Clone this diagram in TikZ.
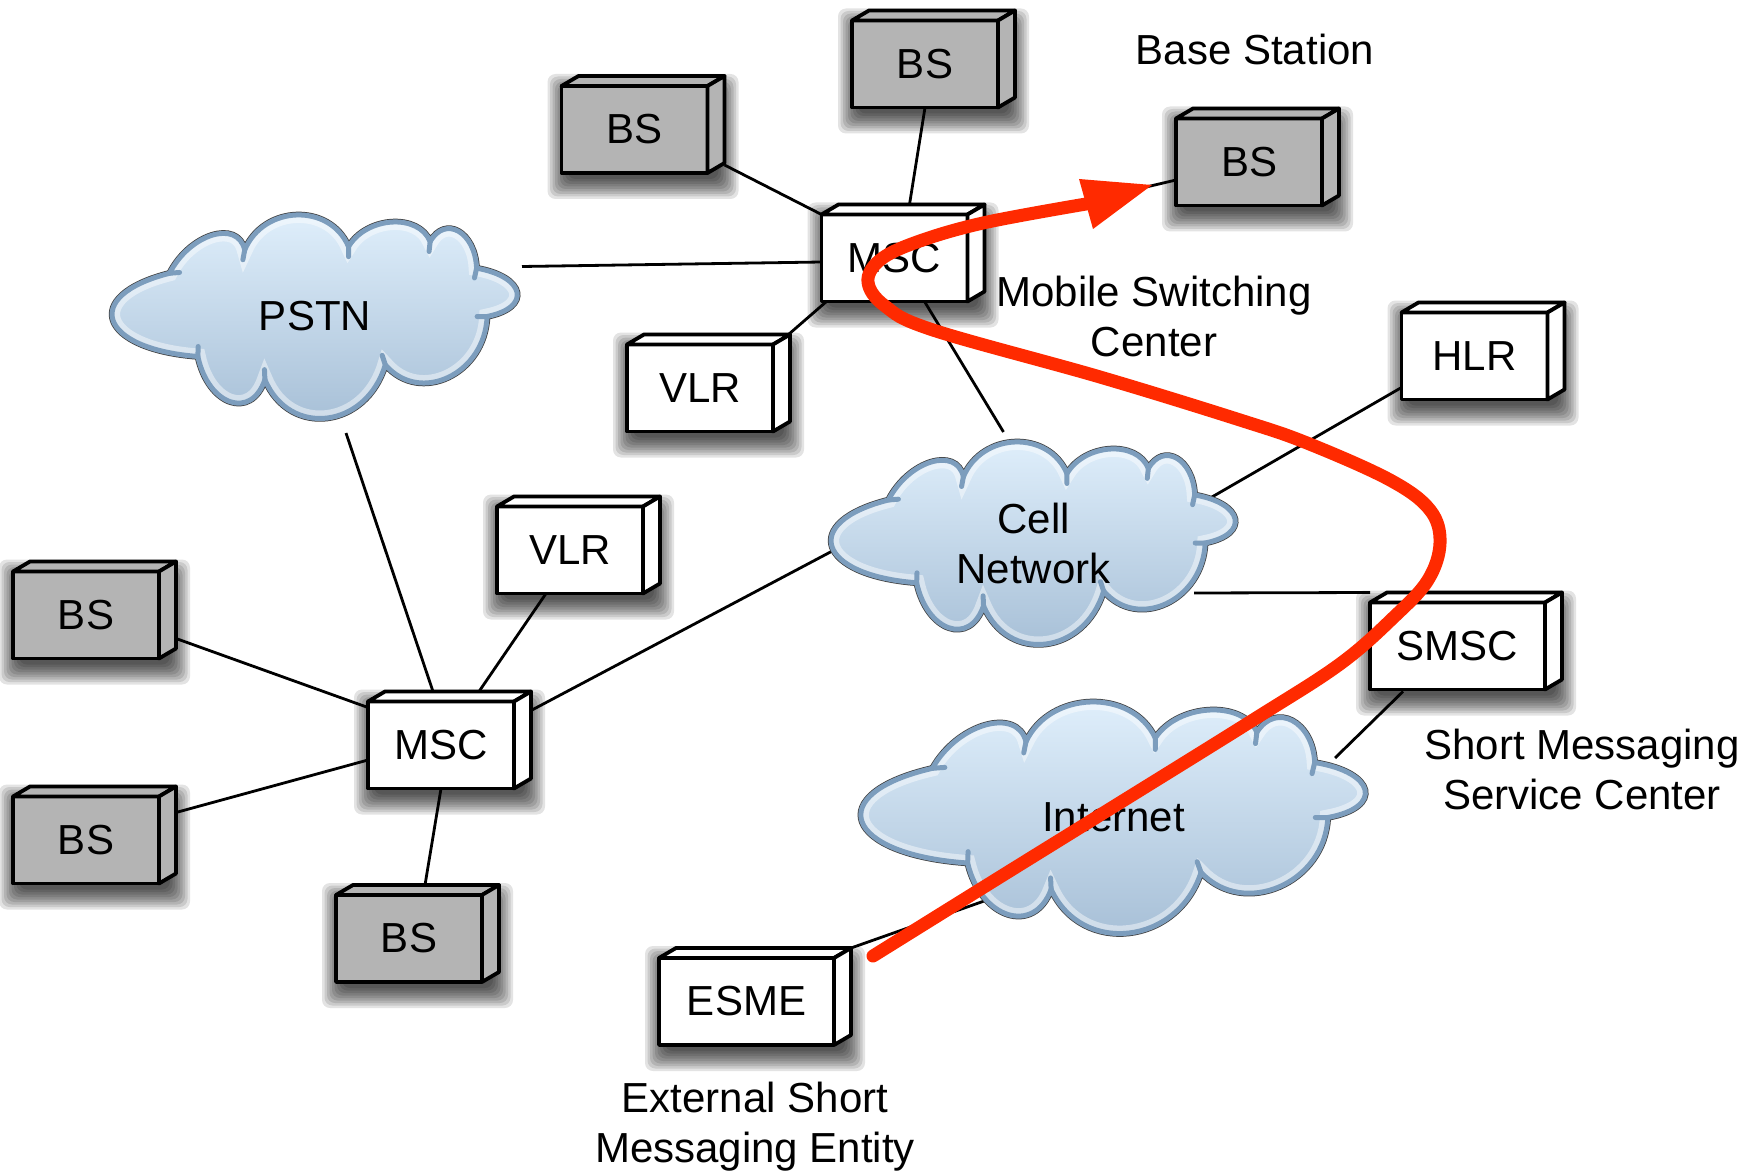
\documentclass[tikz,border=0pt]{standalone}
\usepackage{fontspec}
\setmainfont{Liberation Sans}
\usetikzlibrary{calc}
\pgfdeclarelayer{bg}\pgfdeclarelayer{shadow}\pgfdeclarelayer{lines}\pgfdeclarelayer{top}
\pgfsetlayers{bg,shadow,lines,main,top}
\definecolor{bsgray}{HTML}{B4B4B4}
\definecolor{cloudtop}{HTML}{E2F1FD}
\definecolor{cloudbot}{HTML}{A3BCD4}
\definecolor{cloudblue}{HTML}{7C9DBD}
\definecolor{arrowred}{HTML}{FF2A00}
\newcommand\bigfont{\fontsize{42}{50}\selectfont}
\def\cloudpath{(0.14,0.287) .. controls (0.1895,0.0933) and (0.3085,0.0197) .. (0.326,0.172) .. controls (0.373,-0.0499) and (0.5374,-0.0601) .. (0.583,0.156) .. controls (0.6274,0.0065) and (0.7566,-0.0095) .. (0.785,0.131) .. controls (0.8227,-0.0004) and (0.8963,0.0834) .. (0.90,0.262) .. controls (1.0207,0.3038) and (1.0373,0.4562) .. (0.926,0.50) .. controls (0.9206,0.7838) and (0.7594,0.9362) .. (0.674,0.738) .. controls (0.6274,1.0521) and (0.4366,1.0989) .. (0.376,0.811) .. controls (0.3421,1.0115) and (0.2359,0.9385) .. (0.21,0.697) .. controls (-0.0356,0.6602) and (-0.0804,0.3978) .. (0.14,0.287) -- cycle}
\newcommand\drawcloud[4]{%
  \begin{scope}[shift={(#1,#2)},xscale=#3,yscale=#4]
    \draw[draw=black!75,line width=6.5pt] \cloudpath;
    \shade[top color=cloudtop,bottom color=cloudbot] \cloudpath;
    \begin{scope}
      \clip \cloudpath;
      \draw[draw=white,opacity=0.45,line width=16pt] \cloudpath;
    \end{scope}
    \draw[cloudline] \cloudpath;
    \draw[cloudline,line cap=round] (0.14,0.287)--(0.1647,0.2831) (0.326,0.172)--(0.3215,0.2204)
      (0.583,0.156)--(0.583,0.2053) (0.785,0.131)--(0.7823,0.1799) (0.90,0.262)--(0.8947,0.3101)
      (0.926,0.50)--(0.9012,0.50) (0.674,0.738)--(0.6662,0.6912) (0.376,0.811)--(0.3749,0.7617)
      (0.21,0.697)--(0.2109,0.6477);
  \end{scope}}
\newcommand\mkbox[6]{% name, fill, x, y, width, text
  \node[devbox, fill=#2, minimum width=#5] (#1) at (#3,#4) {#6};
  \filldraw[faceline, fill=#2] (#1.north west) -- ++(17,-10) -- ($(#1.north east)+(17,-10)$) -- (#1.north east) -- cycle;
  \filldraw[faceline, fill=#2] (#1.north east) -- ++(17,-10) -- ($(#1.south east)+(17,-10)$) -- (#1.south east) -- cycle;
  \begin{pgfonlayer}{shadow}
    \foreach \e in {14,11.5,...,-8} {
      \fill[black,opacity=0.11,rounded corners=8pt] ($(#1.north west)+({-(\e)},{2-(\e)})$) rectangle ($(#1.south east)+({17+(\e)},{12+(\e)})$);
    }
  \end{pgfonlayer}}
\begin{document}
\begin{tikzpicture}[x=1pt,y=-1pt,
  devbox/.style={draw, line width=3.8pt, inner sep=0pt, outer sep=0pt, minimum height=87pt, font=\bigfont, line join=round},
  faceline/.style={draw, line width=3.8pt, line join=round},
  conn/.style={draw=black, line width=2.8pt},
  cloudline/.style={draw=cloudblue, line width=5pt},
  cloudtext/.style={font=\bigfont, inner sep=0pt, outer sep=0pt},
  lbl/.style={font=\bigfont, inner sep=0pt},
  redline/.style={draw=arrowred, line width=13pt, line cap=round, line join=round}]
\begin{pgfonlayer}{bg}
  \fill[white] (0,0) rectangle (1763,1174);
\end{pgfonlayer}
\useasboundingbox (0,0) rectangle (1763,1174);

% clouds
\drawcloud{113}{215}{404}{203}
\node[cloudtext, minimum width=404pt, minimum height=203pt] (pstn) at (315,316.5) {PSTN};
\drawcloud{832}{442}{403}{202}
\node[cloudtext, align=center, minimum width=403pt, minimum height=202pt] (cell) at (1033.5,543) {Cell\\Network};
\drawcloud{862}{702}{503}{231}
\node[cloudtext, minimum width=503pt, minimum height=231pt] (inet) at (1113.5,817.5) {Internet};

% boxes
\mkbox{bsul}{bsgray}{86}{615}{146pt}{BS}
\mkbox{bsll}{bsgray}{86}{840}{146pt}{BS}
\mkbox{bsbot}{bsgray}{409}{938.5}{146pt}{BS}
\mkbox{msc2}{white}{441}{745}{146pt}{MSC}
\mkbox{vlr2}{white}{570}{550}{146pt}{VLR}
\mkbox{vlr1}{white}{700}{388}{146pt}{VLR}
\mkbox{msc1}{white}{894.5}{258}{146pt}{MSC}
\mkbox{bsmid}{bsgray}{634.5}{129.5}{146pt}{BS}
\mkbox{bstop}{bsgray}{925}{64}{146pt}{BS}
\mkbox{bsright}{bsgray}{1249}{162}{146pt}{BS}
\mkbox{hlr}{white}{1474.5}{356}{146pt}{HLR}
\mkbox{smsc}{white}{1457.5}{646}{175pt}{SMSC}
\mkbox{esme}{white}{746.5}{1001.5}{175pt}{ESME}

% labels
\node[lbl] (lblbs) at (1255,49.5) {Base Station};
\node[lbl, align=center] (lblmsc) at (1154,316) {Mobile Switching\\Center};
\node[lbl, align=center] (lblsmsc) at (1582,769.5) {Short Messaging\\Service Center};
\node[lbl, align=center] (lblesme) at (755,1126.5) {External Short\\Messaging Entity};

% connectors
\begin{pgfonlayer}{lines}
\draw[conn] ($(bsmid.south east)+(17,-8)$) -- (msc1.north west);
\draw[conn] (bstop.south) -- ($(msc1.north)+(15,-10)$);
\draw[conn] ($(pstn.east)+(5,-50)$) -- ($(msc1.west)+(0,4)$);
\draw[conn] ($(msc1.south west)+(5,0)$) -- ($(vlr1.north east)+(12,-7)$);
\draw[conn] ($(msc1.south)+(30,0)$) -- ($(cell.north)+(-30,-10)$);
\draw[conn] ($(hlr.south west)+(0,-12)$) -- ($(cell.east)+(-30,-42)$);
\draw[conn] ($(cell.south east)+(-41,-51)$) -- ($(smsc.north west)+(0,-10)$);
\draw[conn] ($(smsc.south west)+(33,2)$) -- ($(inet.north east)+(-30,56)$);
\draw[conn] ($(esme.north east)+(17,-10)$) -- ($(inet.south west)+(125,-33)$);
\draw[conn] ($(cell.west)+(6,5)$) -- ($(msc2.north east)+(17,9)$);
\draw[conn] ($(vlr2.south)+(-24,0)$) -- ($(msc2.north)+(38,-10)$);
\draw[conn] ($(pstn.south)+(31,15)$) -- ($(msc2.north)+(-8,-10)$);
\draw[conn] ($(bsul.south east)+(17,-20)$) -- ($(msc2.north west)+(0,6)$);
\draw[conn] ($(bsll.north east)+(17,16)$) -- ($(msc2.west)+(0,15)$);
\draw[conn] ($(bsbot.north)+(16,-10)$) -- (msc2.south);
\draw[conn] ($(bsright.west)+(0,18)$) -- ($(msc1.east)+(17,-33)$);
\end{pgfonlayer}

% red message path
\coordinate (tip) at ($(bsright.west)+(-24,23)$);
\coordinate (redstart) at ($(esme.north east)+(39,-2)$);
\begin{pgfonlayer}{top}
\draw[redline] plot[smooth, tension=0.6] coordinates {(redstart) (1000,877) (1113,807) (1253,720) (1340,664) (1395,616) (1428,580) (1440,543) (1430,510) (1390,480) (1307,443) (1240,420) (1100,377) (933,330) (885,306) (868,282) (880,260) (917,242) (983,223) (1086,204)};
\fill[arrowred] (tip) -- ($(tip)+(-73,-6)$) -- ($(tip)+(-59,44)$) -- cycle;
\end{pgfonlayer}
\end{tikzpicture}
\end{document}
